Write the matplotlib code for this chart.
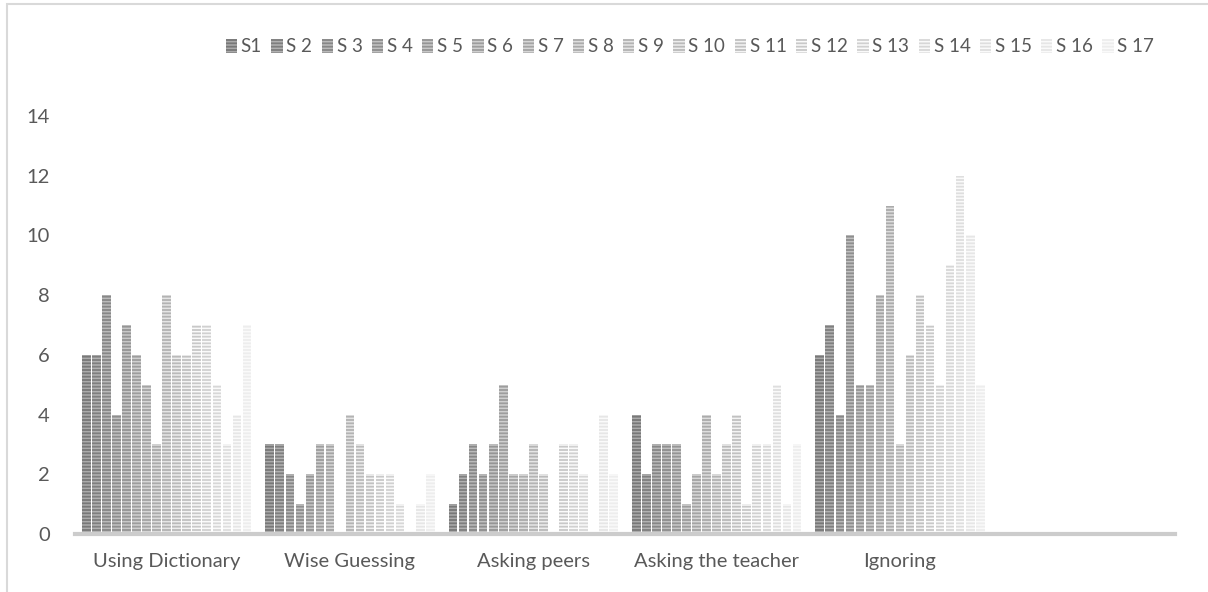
import matplotlib.pyplot as plt
from matplotlib.patches import Rectangle
import numpy as np

plt.rcParams['font.family'] = ['Lato', 'DejaVu Sans']
plt.rcParams['hatch.linewidth'] = 1.1

categories = ["Using Dictionary", "Wise Guessing", "Asking peers", "Asking the teacher", "Ignoring", ""]
series_names = ["S1"] + ["S %d" % i for i in range(2, 18)]

# one list per category, values for S1..S17
using_dictionary = [6, 6, 8, 4, 7, 6, 5, 3, 8, 6, 6, 7, 7, 5, 3, 4, 7]
wise_guessing = [3, 3, 2, 1, 2, 3, 3, 0, 4, 3, 2, 2, 2, 1, 0, 1, 2]
asking_peers = [1, 2, 3, 2, 3, 5, 2, 2, 3, 2, 0, 3, 3, 2, 0, 4, 2]
asking_teacher = [4, 2, 3, 3, 3, 1, 2, 4, 2, 3, 4, 1, 3, 3, 5, 1, 3]
ignoring = [6, 7, 4, 10, 5, 5, 8, 11, 3, 6, 8, 7, 5, 9, 12, 10, 5]
empty = [0] * 17

values = np.array([using_dictionary, wise_guessing, asking_peers, asking_teacher, ignoring, empty])

text_col = '#595959'
fig = plt.figure(figsize=(12.08, 5.92), dpi=100)
ax = fig.add_axes([75 / 1208, 58 / 592, 1100 / 1208, 418 / 592])

n = len(series_names)
group_w = 0.93
pitch = group_w / n
x = np.arange(len(categories))
handles = []
for j in range(n):
    g = 0.47 + 0.46 * j / (n - 1)
    face = (g, g, g)
    g2 = min(g + 0.2, 0.98)
    stripe = (g2, g2, g2)
    pos = x - group_w / 2 + pitch * (j + 0.5)
    b = ax.bar(pos, values[:, j], width=pitch * 0.86, color=face, edgecolor=stripe,
               hatch='-----', linewidth=0, label=series_names[j])
    handles.append(b)

ax.set_xlim(-0.5, len(categories) - 0.5)
ax.set_ylim(0, 14)
ax.set_yticks(range(0, 15, 2))
ax.set_xticks(x)
ax.set_xticklabels(categories)
ax.tick_params(axis='both', length=0, labelsize=14.5, colors=text_col)
ax.tick_params(axis='y', pad=18)
ax.tick_params(axis='x', pad=14)
for s in ['top', 'right', 'left']:
    ax.spines[s].set_visible(False)
ax.spines['bottom'].set_color('#cccccc')
ax.spines['bottom'].set_linewidth(3)

leg = fig.legend(handles=handles, loc='center', bbox_to_anchor=(690 / 1208, 1 - 47 / 592),
                 ncol=n, frameon=False, fontsize=13.5, handlelength=0.6, handleheight=0.7,
                 handletextpad=0.2, columnspacing=0.5, borderaxespad=0)
for t in leg.get_texts():
    t.set_color(text_col)

# chart border
fig.patches.append(Rectangle((7 / 1208, -0.1), 1.2, 1 - 4 / 592 + 0.1, transform=fig.transFigure,
                             fill=False, edgecolor='#d9d9d9', linewidth=1.5))

fig.savefig("out.png", dpi=100)
